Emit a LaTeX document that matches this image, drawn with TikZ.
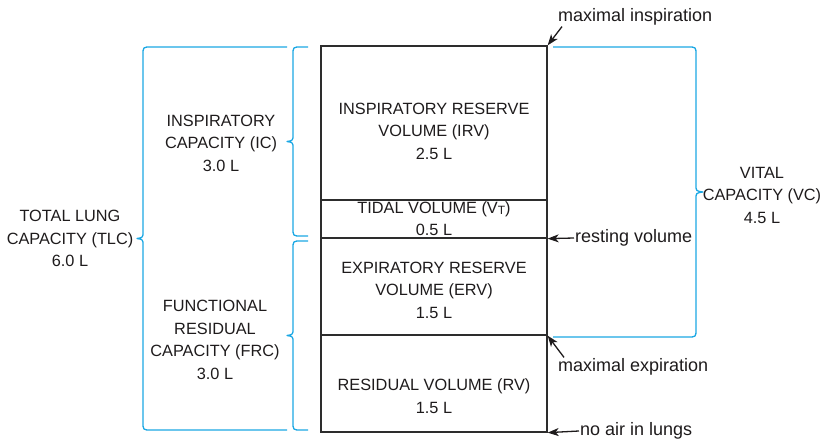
\documentclass[tikz,border=0pt]{standalone}
\usepackage{fontspec}
\setmainfont{Liberation Sans}
\usepackage{tikz}
\usepackage{xcolor}
\usetikzlibrary{arrows.meta,calc,positioning}
\definecolor{lvink}{RGB}{30,27,28}
\definecolor{lvline}{RGB}{45,45,45}
\definecolor{lvcyan}{RGB}{28,168,228}
\tikzset{
  lvcomp/.style={draw=lvline, line width=1.3pt, minimum width=226pt, inner sep=0pt},
  lvtext/.style={text=lvink, align=center, font=\fontsize{16.3}{22.5}\selectfont, inner sep=0pt},
  lvnote/.style={text=lvink, anchor=west, font=\fontsize{18}{22}\selectfont, inner sep=0pt},
  lvbrace/.style={draw=lvcyan, line width=1.3pt, line join=round},
  lvarr/.style={-{Stealth[length=11pt,width=8pt,inset=3pt]}, line width=1.3pt, draw=lvink}
}
% #1 arm end x, #2 stem x, #3 corner x, #4 tip x, #5 top y, #6 bottom y
\newcommand{\lvBrace}[6]{%
  \draw[lvbrace] (#1,#5) -- (#3,#5) .. controls (#2,#5) .. (#2,{#5+8})
    -- (#2,{(#5+#6)/2-7}) .. controls (#2,{(#5+#6)/2-1}) .. (#4,{(#5+#6)/2})
    .. controls (#2,{(#5+#6)/2+1}) .. (#2,{(#5+#6)/2+7})
    -- (#2,{#6-8}) .. controls (#2,#6) .. (#3,#6) -- (#1,#6);}

\begin{document}
\begin{tikzpicture}[x=1pt, y=-1pt]
  \useasboundingbox (0,0) rectangle (831,439);
  % lung volume column
  \node[lvcomp, minimum height=154pt] (irv) at (434,123) {};
  \node[lvcomp, minimum height=38pt] (tv) at (434,219) {};
  \node[lvcomp, minimum height=97pt] (erv) at (434,286.5) {};
  \node[lvcomp, minimum height=97pt] (rv) at (434,383.5) {};
  \node[lvtext] (irvtxt) at (434,131) {INSPIRATORY RESERVE\\VOLUME (IRV)\\2.5 L};
  \node[lvtext] (tvtxt) at (434,218.5) {TIDAL VOLUME (V\raisebox{-1pt}{\fontsize{12}{12}\selectfont T})\\0.5 L};
  \node[lvtext] (ervtxt) at (434,290) {EXPIRATORY RESERVE\\VOLUME (ERV)\\1.5 L};
  \node[lvtext] (rvtxt) at (434,396) {RESIDUAL VOLUME (RV)\\1.5 L};

  % capacities
  \lvBrace{287}{143}{151}{137}{47}{430}
  \lvBrace{308}{293}{301}{287}{47}{236}
  \lvBrace{308}{293}{301}{287}{241}{430}
  \lvBrace{553}{696}{688}{703}{47}{337}
  \node[lvtext] (tlc) at (70,238.5) {TOTAL LUNG\\CAPACITY (TLC)\\6.0 L};
  \node[lvtext] (ic) at (221,143) {INSPIRATORY\\CAPACITY (IC)\\3.0 L};
  \node[lvtext] (frc) at (215,340) {FUNCTIONAL\\RESIDUAL\\CAPACITY (FRC)\\3.0 L};
  \node[lvtext] (vc) at (762,195) {VITAL\\CAPACITY (VC)\\4.5 L};

  % reference levels
  \node[lvnote] (maxin) at (558,17) {maximal inspiration};
  \node[lvnote] (rest) at (575,238) {resting volume};
  \node[lvnote] (maxex) at (558,367) {maximal expiration};
  \node[lvnote] (noair) at (580,431) {no air in lungs};
  \draw[lvarr] ([xshift=4pt,yshift=-1pt]maxin.south west) -- (irv.north east);
  \draw[lvarr] ([xshift=-1pt]rest.west) -- (tv.south east);
  \draw[lvarr] ([xshift=6pt,yshift=1pt]maxex.north west) -- (erv.south east);
  \draw[lvarr] ([xshift=-1pt]noair.west) -- (rv.south east);
\end{tikzpicture}
\end{document}
